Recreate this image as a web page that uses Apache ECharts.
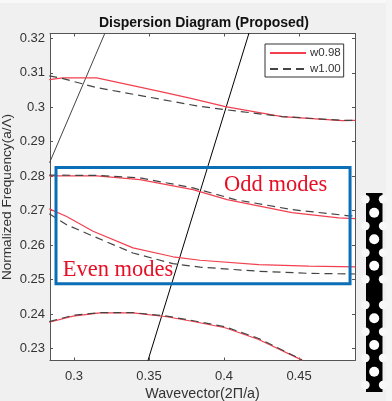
<!DOCTYPE html>
<html>
<head>
<meta charset="utf-8">
<script src="https://cdn.jsdelivr.net/npm/echarts@6/dist/echarts.min.js"></script>
<style>
html, body { margin: 0; padding: 0; background: #f0f0f0; }
#main { width: 392px; height: 401px; }
</style>
</head>
<body>
<div id="main"></div>
<script>
// ticks
let x_ticks = [0.3, 0.35, 0.4, 0.45];
let y_ticks = [0.23, 0.24, 0.25, 0.26, 0.27, 0.28, 0.29, 0.3, 0.31, 0.32];

// light lines
let light_left = [[0.2837, 0.2839], [0.3207, 0.3216]];
let light_right = [[0.3493, 0.2265], [0.4167, 0.3216]];

// w0.98
let red_band1 = [[0.2835, 0.308], [0.2927, 0.3085], [0.3151, 0.3085], [0.34, 0.3062], [0.36, 0.3043], [0.3787, 0.3025], [0.4009, 0.3002], [0.4387, 0.2973], [0.4787, 0.2961], [0.4875, 0.2962]];
let red_band2 = [[0.2835, 0.2801], [0.3151, 0.2801], [0.344, 0.279], [0.3793, 0.2761], [0.402, 0.2732], [0.4453, 0.2694], [0.4765, 0.2679], [0.4875, 0.2677]];
let red_band3 = [[0.2835, 0.2705], [0.2951, 0.2683], [0.3127, 0.264], [0.3393, 0.2592], [0.366, 0.2566], [0.384, 0.2556], [0.4231, 0.2543], [0.4565, 0.2539], [0.4875, 0.2537]];
let red_band4 = [[0.2835, 0.2376], [0.2993, 0.2394], [0.3173, 0.2403], [0.3393, 0.2403], [0.3618, 0.2392], [0.3787, 0.2379], [0.4007, 0.236], [0.4231, 0.2326], [0.452, 0.2266]];

// w1.00
let dash_band1 = [[0.2835, 0.3091], [0.2927, 0.3083], [0.3151, 0.3057], [0.3818, 0.3004], [0.4007, 0.2993], [0.4387, 0.2973], [0.4787, 0.2962], [0.4875, 0.2962]];
let dash_band2 = [[0.2835, 0.2803], [0.3151, 0.2802], [0.344, 0.2795], [0.3793, 0.2766], [0.4073, 0.2732], [0.4453, 0.2703], [0.4831, 0.2685], [0.4875, 0.2684]];
let dash_band3 = [[0.2835, 0.2691], [0.2951, 0.2659], [0.3127, 0.2626], [0.3393, 0.2577], [0.366, 0.2546], [0.384, 0.2536], [0.4231, 0.2524], [0.4565, 0.2518], [0.4875, 0.2516]];
let dash_band4 = [[0.2835, 0.2378], [0.2993, 0.2396], [0.3173, 0.2404], [0.3393, 0.2404], [0.3618, 0.2394], [0.3787, 0.2381], [0.4007, 0.2363], [0.4231, 0.2329], [0.452, 0.2267]];

// 蓝框和文字
let box_corners = [[0.288, 0.2825], [0.484, 0.2488]];
let note_odd = [0.4, 0.2775];
let note_even = [0.2925, 0.2528];

// waveguide strip, rows
let hole_rows = [212.7, 239.3, 265.7, 318.3, 345, 371.7];
let notch_rows = [199.3, 226, 252.7, 279.3, 305, 331.7, 358, 385];

let red = '#f2404f';
let dark = '#444444';

function red_line(name, data) {
    return {
        name: name,
        type: 'line',
        data: data,
        symbol: 'none',
        z: 3,
        lineStyle: { color: red, width: 1.2 },
        itemStyle: { color: red }
    };
}

function dash_line(name, data) {
    return {
        name: name,
        type: 'line',
        data: data,
        symbol: 'none',
        z: 4,
        lineStyle: { color: dark, width: 1.2, type: [8, 5] },
        itemStyle: { color: dark }
    };
}

function black_line(data, color) {
    return {
        type: 'line',
        data: data,
        symbol: 'none',
        z: 2,
        lineStyle: { color: color, width: 1 }
    };
}

function note(text, pos) {
    return {
        type: 'scatter',
        data: [pos],
        symbolSize: 0,
        z: 6,
        itemStyle: { opacity: 1 },
        label: {
            show: true,
            position: 'right',
            distance: 0,
            formatter: text,
            color: '#e60f26',
            opacity: 1,
            fontFamily: 'Liberation Serif',
            fontSize: 22.5
        }
    };
}

// strip picture, plus the lighter edges of the screenshot
let strip = [
    { type: 'rect', shape: { x: 0, y: 0, width: 392, height: 3 }, style: { fill: '#f8f8f8' } },
    { type: 'rect', shape: { x: 386, y: 0, width: 6, height: 401 }, style: { fill: '#f5f5f5' } },
    { type: 'rect', shape: { x: 366, y: 193, width: 16.5, height: 199 }, style: { fill: '#000' } }
];
hole_rows.forEach(function (y) {
    strip.push({ type: 'circle', shape: { cx: 374.2, cy: y, r: 5 }, style: { fill: '#fff' } });
});
notch_rows.forEach(function (y) {
    strip.push({ type: 'circle', shape: { cx: 365.5, cy: y, r: 4.2 }, style: { fill: '#f8f8f8' } });
    strip.push({ type: 'circle', shape: { cx: 383, cy: y, r: 4.2 }, style: { fill: '#f8f8f8' } });
});

let axis_line = { show: true, lineStyle: { color: '#555', width: 1 } };

function x_axis(position, labels) {
    return {
        type: 'value',
        position: position,
        min: 0.284,
        max: 0.4873,
        splitLine: { show: false },
        axisLine: axis_line,
        axisTick: { show: true, inside: true, length: 3, customValues: x_ticks, lineStyle: { color: '#555' } },
        axisLabel: { show: labels, customValues: x_ticks, color: '#333', fontSize: 13, margin: 9, fontFamily: 'Liberation Sans' }
    };
}

function y_axis(position, labels) {
    return {
        type: 'value',
        position: position,
        min: 0.2265,
        max: 0.3214,
        splitLine: { show: false },
        axisLine: axis_line,
        axisTick: { show: true, inside: true, length: 3, customValues: y_ticks, lineStyle: { color: '#555' } },
        axisLabel: { show: labels, customValues: y_ticks, color: '#333', fontSize: 13, margin: 5, fontFamily: 'Liberation Sans' }
    };
}

let bottom_axis = x_axis('bottom', true);
bottom_axis.name = 'Wavevector(2\u03a0/a)';
bottom_axis.nameLocation = 'middle';
bottom_axis.nameGap = 26;
bottom_axis.nameTextStyle = { color: '#333', fontSize: 14.3, fontFamily: 'Liberation Sans' };

let left_axis = y_axis('left', true);
left_axis.name = 'Normalized Frequency(a/\u039b)';
left_axis.nameLocation = 'middle';
left_axis.nameGap = 36;
left_axis.nameMoveOverlap = false;
left_axis.nameTextStyle = { color: '#333', fontSize: 13.6, fontFamily: 'Liberation Sans' };

let series_list = [
    black_line(light_left, '#444444'),
    black_line(light_right, '#000000'),
    red_line('w0.98', red_band1),
    red_line('w0.98', red_band2),
    red_line('w0.98', red_band3),
    red_line('w0.98', red_band4),
    dash_line('w1.00', dash_band1),
    dash_line('w1.00', dash_band2),
    dash_line('w1.00', dash_band3),
    dash_line('w1.00', dash_band4),
    note('Odd modes', note_odd),
    note('Even modes', note_even)
];

// blue box
series_list[1].markArea = {
    silent: true,
    z: 5,
    itemStyle: { color: 'transparent', borderColor: '#0b6fb8', borderWidth: 3 },
    data: [[{ coord: box_corners[0] }, { coord: box_corners[1] }]]
};

let chart = echarts.init(document.getElementById('main'));

let option = {
    animation: false,
    backgroundColor: '#f0f0f0',
    title: {
        text: 'Dispersion Diagram (Proposed)',
        left: 199,
        top: 11,
        textAlign: 'center',
        textStyle: { color: '#111', fontSize: 14, fontWeight: 'bold', fontFamily: 'Liberation Sans' }
    },
    grid: { left: 50, right: 37, top: 33.5, bottom: 40.5, backgroundColor: '#fff', show: true, borderWidth: 0, outerBoundsMode: 'none' },
    legend: {
        data: ['w0.98', 'w1.00'],
        orient: 'vertical',
        left: 265,
        top: 44,
        padding: [3, 3, 2, 4],
        itemGap: 4,
        itemWidth: 36,
        itemHeight: 11,
        itemStyle: { opacity: 0 },
        backgroundColor: '#fff',
        borderColor: '#333',
        borderWidth: 1,
        textStyle: { color: '#333', fontSize: 11.5, fontFamily: 'Liberation Sans', padding: [0, 0, 0, -1] }
    },
    xAxis: [bottom_axis, x_axis('top', false)],
    yAxis: [left_axis, y_axis('right', false)],
    series: series_list,
    graphic: strip
};

chart.setOption(option);
</script>
</body>
</html>
